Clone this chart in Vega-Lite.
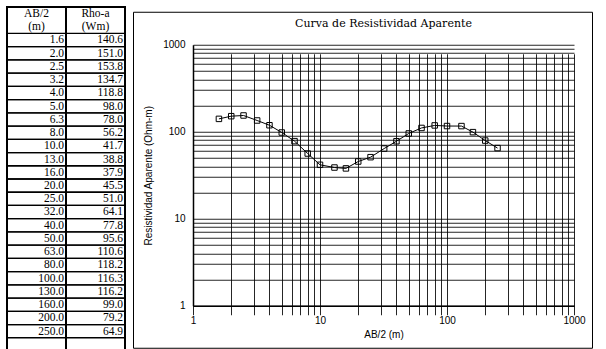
{
  "$schema": "https://vega.github.io/schema/vega-lite/v6.json",
  "padding": {"left": 5, "top": 5, "right": 0, "bottom": 0},
  "background": "white",
  "spacing": 5,
  "center": true,
  "datasets": {
    "sev": [
      {"i": 0, "ab": 1.6, "rho": 140.6},
      {"i": 1, "ab": 2.0, "rho": 151.0},
      {"i": 2, "ab": 2.5, "rho": 153.8},
      {"i": 3, "ab": 3.2, "rho": 134.7},
      {"i": 4, "ab": 4.0, "rho": 118.8},
      {"i": 5, "ab": 5.0, "rho": 98.0},
      {"i": 6, "ab": 6.3, "rho": 78.0},
      {"i": 7, "ab": 8.0, "rho": 56.2},
      {"i": 8, "ab": 10.0, "rho": 41.7},
      {"i": 9, "ab": 13.0, "rho": 38.8},
      {"i": 10, "ab": 16.0, "rho": 37.9},
      {"i": 11, "ab": 20.0, "rho": 45.5},
      {"i": 12, "ab": 25.0, "rho": 51.0},
      {"i": 13, "ab": 32.0, "rho": 64.1},
      {"i": 14, "ab": 40.0, "rho": 77.8},
      {"i": 15, "ab": 50.0, "rho": 95.6},
      {"i": 16, "ab": 63.0, "rho": 110.6},
      {"i": 17, "ab": 80.0, "rho": 118.2},
      {"i": 18, "ab": 100.0, "rho": 116.3},
      {"i": 19, "ab": 130.0, "rho": 116.2},
      {"i": 20, "ab": 160.0, "rho": 99.0},
      {"i": 21, "ab": 200.0, "rho": 79.2},
      {"i": 22, "ab": 250.0, "rho": 64.9}
    ],
    "hdr": [
      {"col": "ab", "line": -2, "t": "AB/2"},
      {"col": "ab", "line": -1, "t": "(m)"},
      {"col": "rho", "line": -2, "t": "Rho-a"},
      {"col": "rho", "line": -1, "t": "(Wm)"}
    ]
  },
  "hconcat": [
    {
      "width": 118,
      "height": 344,
      "view": {"stroke": "black", "strokeWidth": 2},
      "layer": [
        {
          "data": {"name": "sev"},
          "mark": {"type": "rule", "color": "black", "strokeWidth": 1.3},
          "encoding": {
            "y": {"field": "i", "type": "quantitative", "scale": {"domain": [-2, 24], "reverse": true, "nice": false, "zero": false}, "axis": null}
          }
        },
        {
          "data": {"name": "sev"},
          "mark": {"type": "rule", "color": "black", "strokeWidth": 1.3, "yOffset": 13.23},
          "encoding": {
            "y": {"field": "i", "type": "quantitative", "axis": null}
          }
        },
        {
          "data": {"name": "sev"},
          "transform": [{"fold": ["ab", "rho"], "as": ["col", "val"]}],
          "mark": {"type": "rule", "color": "black", "strokeWidth": 2},
          "encoding": {
            "x": {"field": "col", "type": "nominal", "bandPosition": 0, "scale": {"domain": ["ab", "rho"], "paddingInner": 0, "paddingOuter": 0}, "axis": null}
          }
        },
        {
          "data": {"name": "sev"},
          "transform": [{"fold": ["ab", "rho"], "as": ["col", "val"]}],
          "mark": {"type": "text", "align": "right", "baseline": "middle", "dx": -2, "dy": 7, "font": "Liberation Serif", "fontSize": 11.5, "color": "black"},
          "encoding": {
            "x": {"field": "col", "type": "nominal", "bandPosition": 1, "axis": null},
            "y": {"field": "i", "type": "quantitative", "axis": null},
            "text": {"field": "val", "type": "quantitative", "format": ".1f"}
          }
        },
        {
          "data": {"name": "hdr"},
          "mark": {"type": "text", "align": "center", "baseline": "middle", "dy": 7, "font": "Liberation Serif", "fontSize": 11.5, "color": "black"},
          "encoding": {
            "x": {"field": "col", "type": "nominal", "bandPosition": 0.5, "axis": null},
            "y": {"field": "line", "type": "quantitative", "axis": null},
            "text": {"field": "t", "type": "nominal"}
          }
        }
      ]
    },
    {
      "width": 459,
      "height": 336,
      "view": {"stroke": "black", "strokeWidth": 1},
      "title": {"text": "Curva de Resistividad Aparente", "font": "DejaVu Serif", "fontSize": 11, "fontWeight": "normal", "anchor": "middle", "offset": -17, "dx": 21, "color": "black"},
      "data": {"name": "sev"},
      "encoding": {
        "x": {
          "field": "ab", "type": "quantitative",
          "scale": {"type": "log", "domain": [1, 1000], "range": [60, 441], "nice": false},
          "axis": {
            "values": [1, 2, 3, 4, 5, 6, 7, 8, 9, 10, 20, 30, 40, 50, 60, 70, 80, 90, 100, 200, 300, 400, 500, 600, 700, 800, 900, 1000],
            "grid": true, "gridColor": "black", "gridWidth": 1, "gridOpacity": 0.85,
            "ticks": false, "domain": true, "domainColor": "black", "domainWidth": 1.5,
            "format": "d",
            "labelExpr": "datum.value == 1 || datum.value == 10 || datum.value == 100 || datum.value == 1000 ? datum.label : ''",
            "labelFlush": false, "labelOverlap": false,
            "labelFont": "Liberation Sans", "labelFontSize": 10, "labelColor": "black", "labelPadding": 10,
            "title": "AB/2 (m)", "titleFont": "Liberation Sans", "titleFontSize": 10, "titleFontWeight": "normal", "titleColor": "black", "titlePadding": 4,
            "offset": -42
          }
        },
        "y": {
          "field": "rho", "type": "quantitative",
          "scale": {"type": "log", "domain": [1, 1000], "range": [294, 33], "nice": false},
          "axis": {
            "values": [1, 2, 3, 4, 5, 6, 7, 8, 9, 10, 20, 30, 40, 50, 60, 70, 80, 90, 100, 200, 300, 400, 500, 600, 700, 800, 900, 1000],
            "grid": true, "gridColor": "black", "gridWidth": 1, "gridOpacity": 0.85,
            "ticks": false, "domain": true, "domainColor": "black", "domainWidth": 1.5,
            "format": "d",
            "labelExpr": "datum.value == 1 || datum.value == 10 || datum.value == 100 || datum.value == 1000 ? datum.label : ''",
            "labelFlush": false, "labelOverlap": false,
            "labelFont": "Liberation Sans", "labelFontSize": 10, "labelColor": "black", "labelPadding": 8,
            "title": "Resistividad Aparente (Ohm-m)", "titleFont": "Liberation Sans", "titleFontSize": 10, "titleFontWeight": "normal", "titleColor": "black", "titlePadding": 9,
            "offset": -60
          }
        }
      },
      "layer": [
        {"mark": {"type": "line", "color": "black", "strokeWidth": 1}},
        {"mark": {"type": "point", "shape": "square", "size": 30, "filled": false, "color": "black", "strokeWidth": 1, "opacity": 1}}
      ]
    }
  ]
}
